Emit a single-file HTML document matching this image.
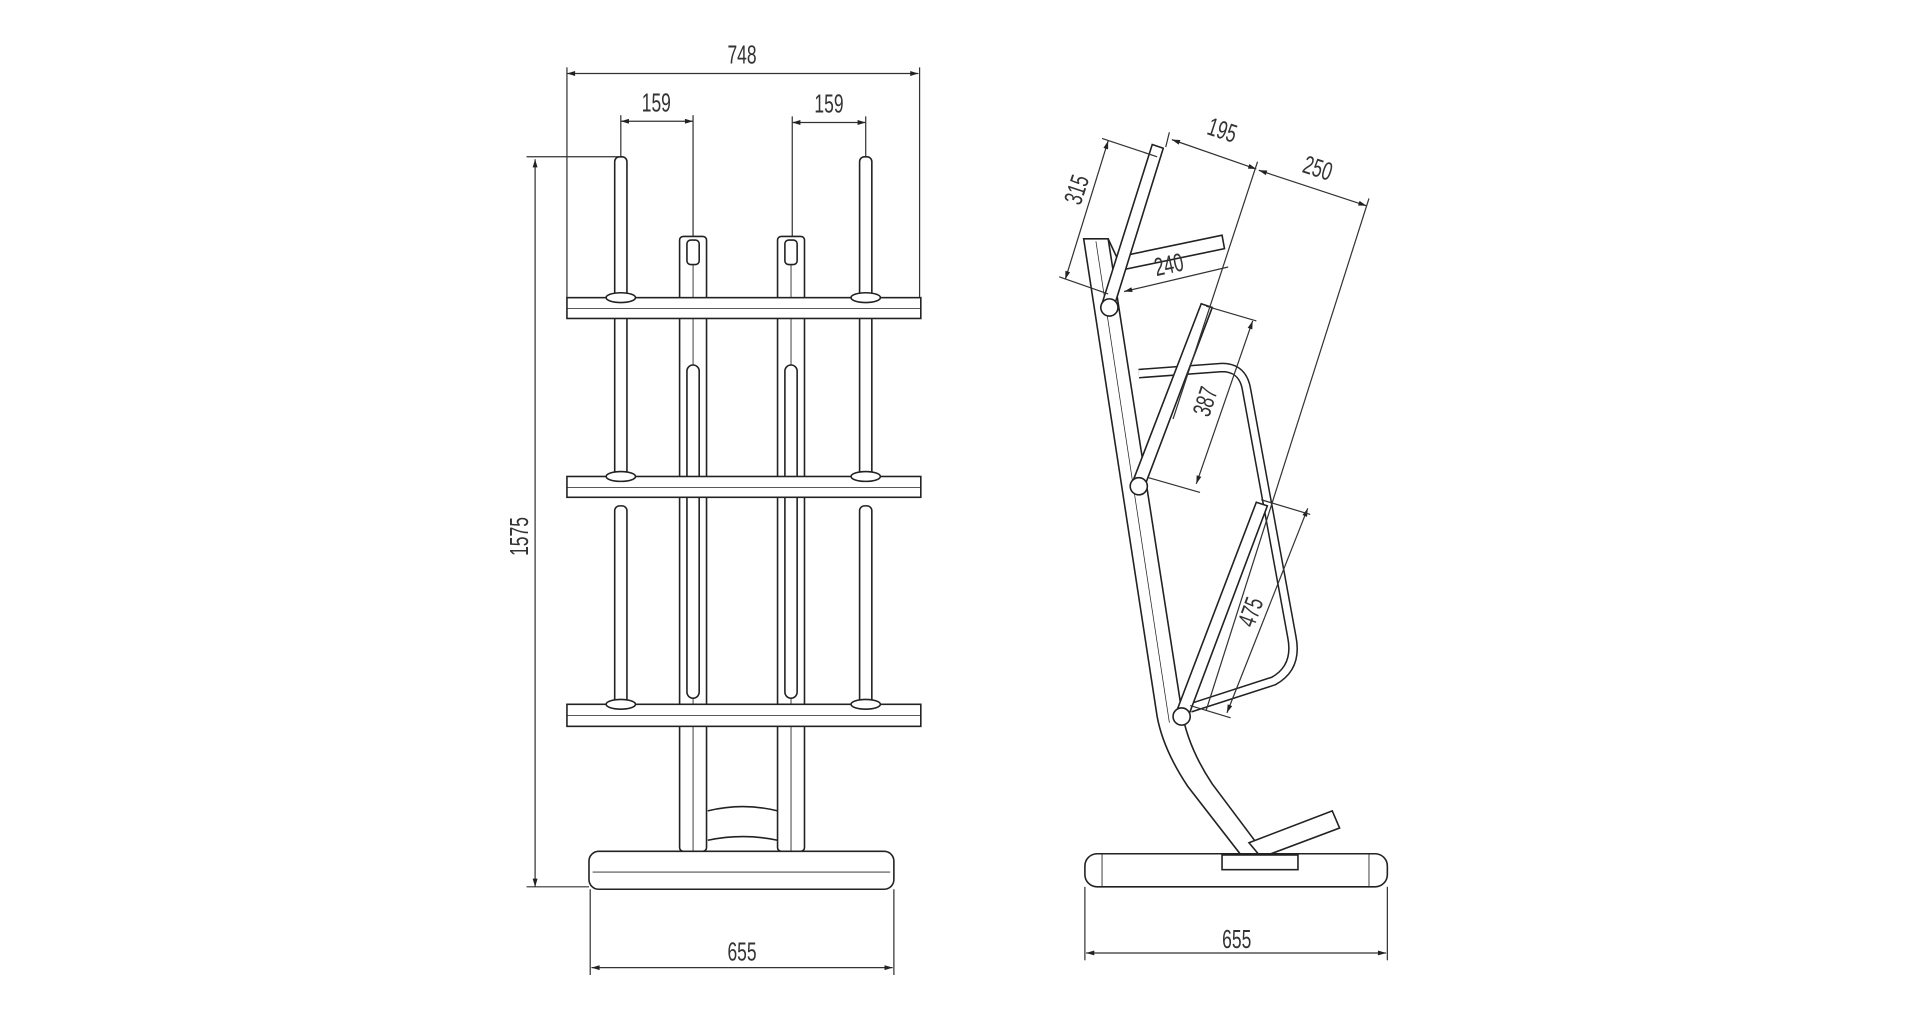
<!DOCTYPE html>
<html><head><style>html,body{margin:0;padding:0;background:#fff;width:1920px;height:1024px;overflow:hidden}</style></head>
<body>
<svg width="1920" height="1024" viewBox="0 0 1568 836" preserveAspectRatio="none" xmlns="http://www.w3.org/2000/svg">
<defs>
<marker id="a" viewBox="0 0 10 6" refX="10" refY="3" markerWidth="10" markerHeight="4" orient="auto-start-reverse" markerUnits="userSpaceOnUse"><path d="M0,0 L10,3 L0,6z" fill="#222"/></marker>
</defs>
<rect width="1568" height="836" fill="#fff"/>
<g fill="none" stroke="#333" stroke-width="1">
<!-- front dims -->
<line x1="463" y1="60" x2="750" y2="60" marker-start="url(#a)" marker-end="url(#a)"/>
<line x1="463" y1="55" x2="463" y2="245"/><line x1="751" y1="55" x2="751" y2="245"/>
<line x1="507" y1="99" x2="566" y2="99" marker-start="url(#a)" marker-end="url(#a)"/>
<line x1="507" y1="94" x2="507" y2="128"/><line x1="566" y1="94" x2="566" y2="193"/>
<line x1="647" y1="100" x2="707" y2="100" marker-start="url(#a)" marker-end="url(#a)"/>
<line x1="647" y1="95" x2="647" y2="193"/><line x1="707" y1="95" x2="707" y2="128"/>
<line x1="437" y1="130" x2="437" y2="724" marker-start="url(#a)" marker-end="url(#a)"/>
<line x1="430" y1="128" x2="505" y2="128"/><line x1="430" y1="724" x2="481" y2="724"/>
<line x1="483" y1="790" x2="729" y2="790" marker-start="url(#a)" marker-end="url(#a)"/>
<line x1="482" y1="726" x2="482" y2="796"/><line x1="730" y1="726" x2="730" y2="796"/>
</g>
<g fill="#fff" stroke="#222" stroke-width="1.3">
<!-- posts -->
<rect x="555" y="193" width="22" height="502" rx="3"/>
<rect x="635" y="193" width="22" height="502" rx="3"/>
<line x1="566" y1="215" x2="566" y2="695" stroke-width=".7"/><line x1="646" y1="215" x2="646" y2="695" stroke-width=".7"/>
<rect x="561" y="196" width="10" height="20" rx="3"/><rect x="641" y="196" width="10" height="20" rx="3"/>
<rect x="561" y="298" width="10" height="272" rx="5"/><rect x="641" y="298" width="10" height="272" rx="5"/>
<!-- outer pegs -->
<rect x="502" y="128" width="10" height="117" rx="4"/><rect x="502" y="257" width="10" height="133" rx="4"/><rect x="502" y="413" width="10" height="162" rx="4"/>
<rect x="702" y="128" width="10" height="117" rx="4"/><rect x="702" y="257" width="10" height="133" rx="4"/><rect x="702" y="413" width="10" height="162" rx="4"/>
<!-- bars -->
<rect x="463" y="243" width="289" height="17"/><rect x="463" y="389" width="289" height="17"/><rect x="463" y="575" width="289" height="18"/>
<line x1="463" y1="252" x2="752" y2="252" stroke-width=".6"/><line x1="463" y1="398" x2="752" y2="398" stroke-width=".6"/><line x1="463" y1="584" x2="752" y2="584" stroke-width=".6"/>
<ellipse cx="507" cy="243" rx="12" ry="4"/><ellipse cx="707" cy="243" rx="12" ry="4"/>
<ellipse cx="507" cy="389" rx="12" ry="4"/><ellipse cx="707" cy="389" rx="12" ry="4"/>
<ellipse cx="507" cy="575" rx="12" ry="4"/><ellipse cx="707" cy="575" rx="12" ry="4"/>
<path d="M578,662 Q607,655 635,662 M578,686 Q607,680 635,686" fill="none"/>
<!-- base -->
<rect x="481" y="695" width="249" height="31" rx="8"/>
<line x1="484" y1="712" x2="727" y2="712" stroke-width=".7"/>
<!-- side view -->
<path d="M885,195 L905,195 L965,580 Q970,610 990,640 L1035,700 L1015,700 L970,642 Q950,612 945,585 Z"/>
<line x1="895" y1="197" x2="955" y2="590" stroke-width=".6"/>
<line x1="905" y1="195" x2="912" y2="210"/>
<path d="M912,210 L998,192 L1000,203 L918,220" />
<path d="M930,305 L998,300 Q1015,300 1018,318 L1055,520 Q1060,545 1040,556 L972,578" fill="none" stroke-width="8" stroke="#222"/>
<path d="M930,305 L998,300 Q1015,300 1018,318 L1055,520 Q1060,545 1040,556 L972,578" fill="none" stroke-width="5.5" stroke="#fff"/>
<path d="M1020,688 L1088,662 L1094,676 L1030,700Z"/>
<path d="M899,251 L941,118 L950,121 L909,253Z"/>
<path d="M924,396 L981,248 L990,251 L934,399Z"/>
<path d="M960,583 L1026,410 L1035,413 L970,586Z"/>
<circle cx="906" cy="251" r="7"/><circle cx="930" cy="397" r="7"/><circle cx="965" cy="585" r="7"/>
<rect x="886" y="697" width="247" height="27" rx="10"/>
<rect x="998" y="698" width="62" height="12"/>
<line x1="900" y1="697" x2="900" y2="724" stroke-width=".7"/><line x1="1118" y1="697" x2="1118" y2="724" stroke-width=".7"/>
</g>
<g fill="none" stroke="#333" stroke-width="1">
<line x1="886" y1="724" x2="886" y2="784"/><line x1="1133" y1="724" x2="1133" y2="784"/>
<line x1="887" y1="778" x2="1132" y2="778" marker-start="url(#a)" marker-end="url(#a)"/>
<line x1="905" y1="115" x2="870" y2="228" marker-start="url(#a)" marker-end="url(#a)"/>
<line x1="900" y1="113" x2="945" y2="128"/><line x1="865" y1="226" x2="905" y2="240"/>
<line x1="957" y1="114" x2="1026" y2="138" marker-start="url(#a)" marker-end="url(#a)"/>
<line x1="1028" y1="139" x2="1116" y2="168" marker-start="url(#a)" marker-end="url(#a)"/>
<line x1="955" y1="108" x2="952" y2="120"/>
<line x1="1027" y1="132" x2="958" y2="342"/>
<line x1="1118" y1="162" x2="985" y2="580"/>
<line x1="918" y1="238" x2="1003" y2="218" marker-start="url(#a)"/>
<line x1="1023" y1="262" x2="977" y2="395" marker-start="url(#a)" marker-end="url(#a)"/>
<line x1="985" y1="250" x2="1026" y2="262"/><line x1="938" y1="390" x2="980" y2="402"/>
<line x1="1068" y1="415" x2="1002" y2="582" marker-start="url(#a)" marker-end="url(#a)"/>
<line x1="1030" y1="408" x2="1070" y2="420"/><line x1="972" y1="576" x2="1005" y2="586"/>
</g>
<g font-family="Liberation Sans, sans-serif" font-size="19" fill="#333" text-anchor="middle" transform="scale(1,1)">
<text x="606" y="52" transform="translate(606,52) scale(0.75,1.1) translate(-606,-52)">748</text>
<text x="536" y="91" transform="translate(536,91) scale(0.75,1.1) translate(-536,-91)">159</text>
<text x="677" y="92" transform="translate(677,92) scale(0.75,1.1) translate(-677,-92)">159</text>
<text x="606" y="784" transform="translate(606,784) scale(0.75,1.1) translate(-606,-784)">655</text>
<text x="1010" y="774" transform="translate(1010,774) scale(0.75,1.1) translate(-1010,-774)">655</text>
<text transform="translate(431,438) rotate(-90) scale(0.75,1.1)">1575</text>
<text transform="translate(886,157) rotate(-72) scale(0.75,1.1)">315</text>
<text transform="translate(996,113) rotate(18) scale(0.75,1.1)">195</text>
<text transform="translate(1074,144) rotate(18) scale(0.75,1.1)">250</text>
<text transform="translate(956,223) rotate(-12) scale(0.75,1.1)">240</text>
<text transform="translate(991,330) rotate(-72) scale(0.75,1.1)">387</text>
<text transform="translate(1028,502) rotate(-70) scale(0.75,1.1)">475</text>
</g>
</svg>
</body></html>
